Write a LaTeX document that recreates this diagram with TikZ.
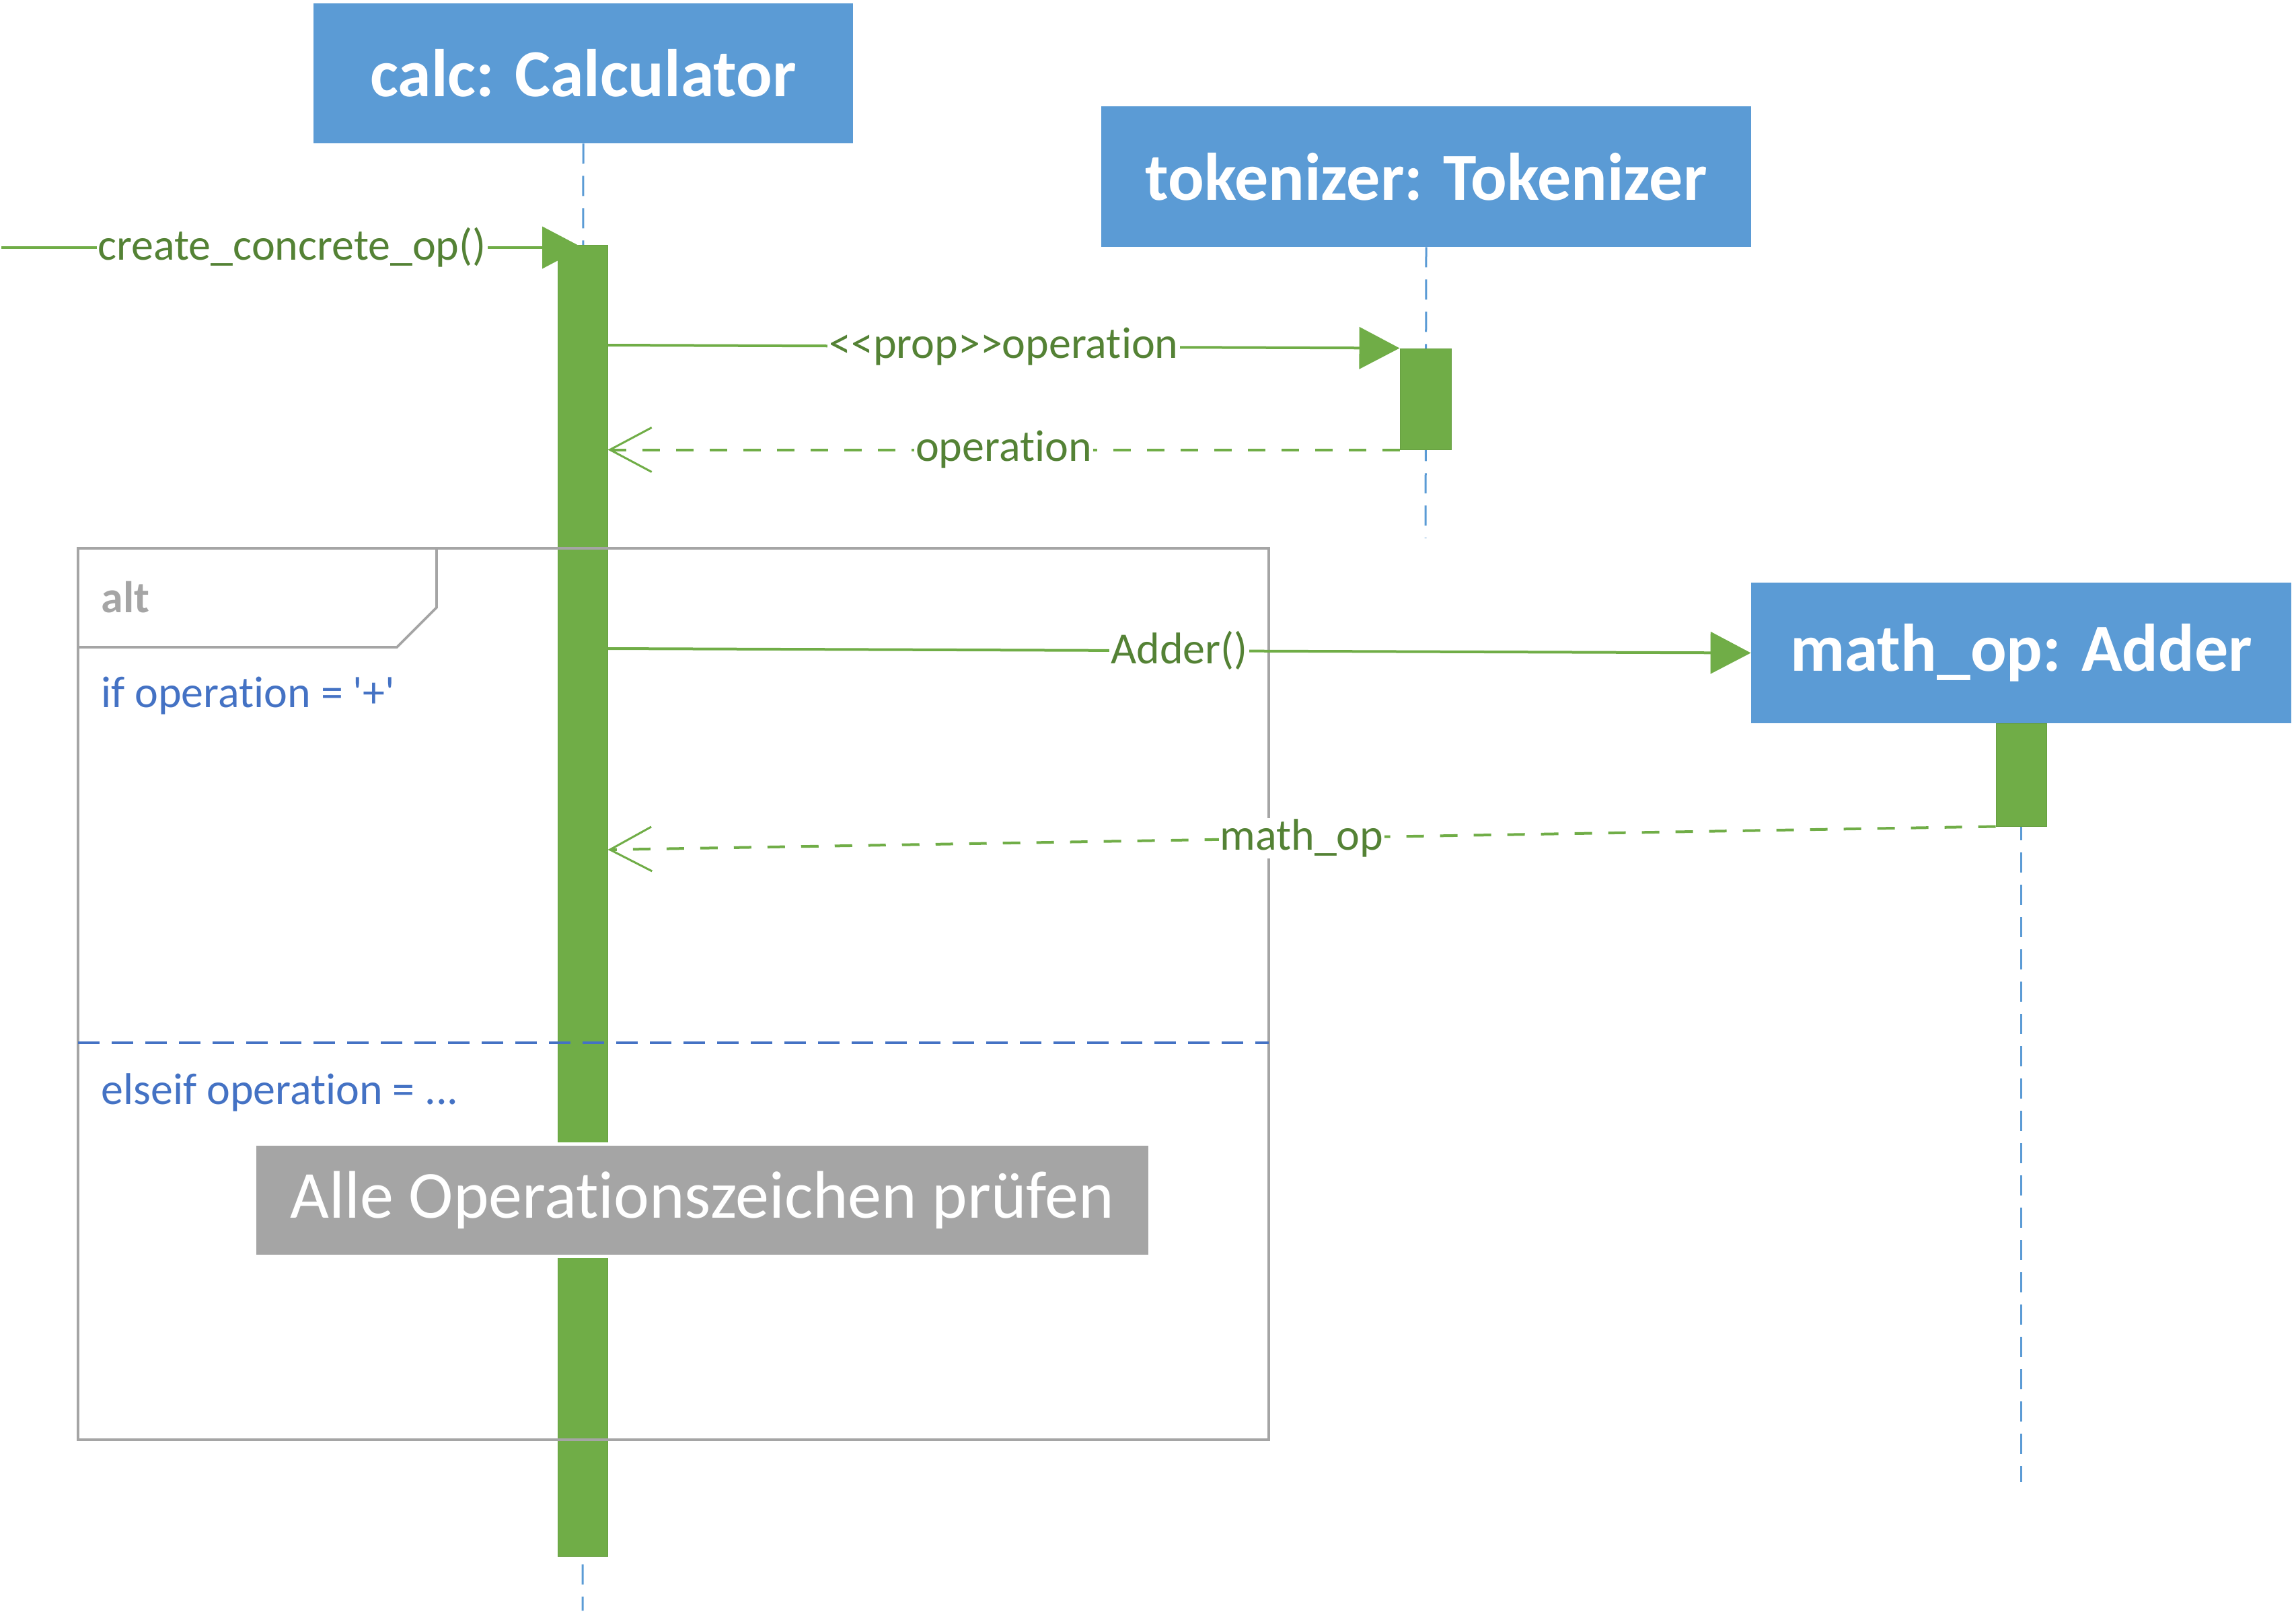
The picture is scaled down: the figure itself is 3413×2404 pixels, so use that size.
\documentclass[tikz,border=0pt]{standalone}
\usepackage{fontspec}
\setmainfont{Carlito}[Ligatures=CommonOff]
\usetikzlibrary{arrows.meta}
\definecolor{boxblue}{HTML}{5B9BD5}
\definecolor{actgreen}{HTML}{70AD47}
\definecolor{lblgreen}{HTML}{548235}
\definecolor{framegray}{HTML}{A5A5A5}
\definecolor{guardblue}{HTML}{4472C4}
\begin{document}
\begin{tikzpicture}[x=0.5pt,y=-0.5pt,
  objbox/.style={fill=boxblue, text=white, font=\fontsize{50}{60}\selectfont\bfseries, inner sep=0pt},
  lifeline/.style={draw=boxblue, line width=1.5pt, dash pattern=on 15pt off 9pt},
  actbar/.style={fill=actgreen, draw=actgreen!92!black, line width=0.5pt, inner sep=0pt},
  msg/.style={draw=actgreen, line width=2pt, -{Triangle[length=30pt,width=31pt]}},
  ret/.style={draw=actgreen, line width=2pt, dash pattern=on 13pt off 12pt, -{Straight Barb[length=31pt,width=33pt,line width=1.5pt]}},
  lbl/.style={fill=white, text=lblgreen, font=\fontsize{33}{40}\selectfont, inner sep=1pt},
  guard/.style={text=guardblue, font=\fontsize{33}{40}\selectfont, anchor=west, inner sep=0pt},
  notebox/.style={fill=framegray, text=white, font=\fontsize{50}{60}\selectfont, inner sep=0pt, preaction={draw=white, line width=5pt}},
]
\useasboundingbox (0,0) rectangle (3413,2404);

% objects
\node[objbox, minimum width=401pt, minimum height=104pt] (calc) at (867,109) {calc: Calculator};
\node[objbox, minimum width=483pt, minimum height=104.5pt] (tok) at (2120,262.5) {tokenizer: Tokenizer};
\node[objbox, minimum width=401.5pt, minimum height=104.5pt] (mathop) at (3004.5,970.5) {math\_op: Adder};

% lifeline ends
\coordinate (calcend) at (866,2394);
\coordinate (tokend) at (2119,800);
\coordinate (mathend) at (3004.5,2203);
\draw[lifeline] (calc.south) -- (calcend);
\draw[lifeline] (tok.south) -- (tokend);
\draw[lifeline] (mathop.south) -- (mathend);

% activation bars
\node[actbar, minimum width=37pt, minimum height=974.5pt] (calcbar) at (866,1338.5) {};
\node[actbar, minimum width=38pt, minimum height=75pt] (tokbar) at (2119,593) {};
\node[actbar, minimum width=37.5pt, minimum height=76.5pt] (mathbar) at (3004.5,1151.5) {};

% combined fragment
\draw[framegray, line width=1.8pt] (116,815) rectangle (1886,2140);
\draw[framegray, line width=1.8pt] (116,962) -- (590,962) -- (649,903) -- (649,815);
\node[text=framegray, font=\fontsize{33}{40}\selectfont\bfseries, anchor=west, inner sep=0pt] (alt) at (150,888) {alt};
\node[guard] (g1) at (150,1034) {if operation = \textquotesingle+\textquotesingle};
\draw[guardblue, line width=1.8pt, dash pattern=on 16pt off 9pt] (116,1550) -- (1886,1550);
\node[guard] (g2) at (150,1624) {elseif operation = ...};

% messages
\coordinate (src) at (2,368);
\coordinate (m2s) at (903,513);
\coordinate (m4s) at (903,964);
\draw[msg] (src) -- (calcbar.north |- src) node[lbl, pos=0.5] {create\_concrete\_op()};
\draw[msg] (calcbar.east |- m2s) -- (tokbar.north west) node[lbl, midway] {<{}<prop>{}>operation};
\draw[ret] (tokbar.south west) -- (calcbar.east |- tokbar.south) node[lbl, midway] {operation};
\draw[msg] (calcbar.east |- m4s) -- (mathop.west) node[lbl, midway] {Adder()};
\coordinate (r2) at (903,1263);
\draw[ret] (mathbar.south west) -- (calcbar.east |- r2) node[lbl, midway] {math\_op};

% note
\node[notebox, minimum width=663pt, minimum height=81pt] (note) at (1044,1784) {Alle Operationszeichen prüfen};
\end{tikzpicture}
\end{document}
